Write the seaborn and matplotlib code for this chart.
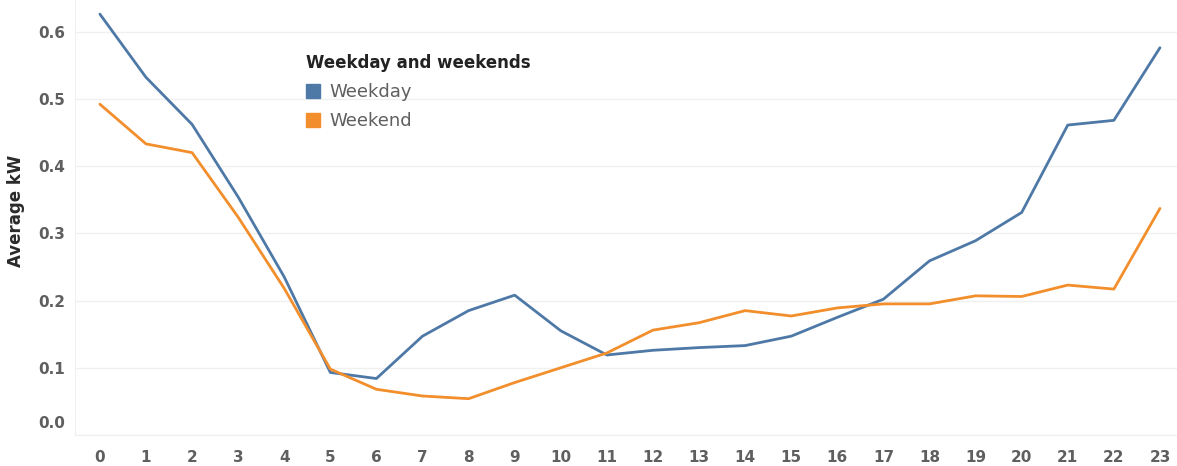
import numpy as np
import pandas as pd
import matplotlib
matplotlib.use("Agg")
import matplotlib.pyplot as plt
import matplotlib.transforms as mtransforms
from matplotlib.lines import Line2D
import seaborn as sns

hours = list(range(24))
weekday = [0.626, 0.532, 0.462, 0.354, 0.235, 0.093, 0.084, 0.147, 0.185, 0.208,
           0.155, 0.119, 0.126, 0.130, 0.133, 0.147, 0.175, 0.202, 0.259, 0.289,
           0.331, 0.461, 0.468, 0.576]
weekend = [0.492, 0.433, 0.420, 0.324, 0.218, 0.098, 0.068, 0.058, 0.054, 0.078,
           0.100, 0.122, 0.156, 0.167, 0.185, 0.177, 0.189, 0.195, 0.195, 0.207,
           0.206, 0.223, 0.217, 0.337]
series_names = ["Weekday", "Weekend"]
legend_title = "Weekday and weekends"
y_label = "Average kW"
y_ticks = [0.0, 0.1, 0.2, 0.3, 0.4, 0.5, 0.6]

colors = {"Weekday": "#4E79A7", "Weekend": "#F28E2B"}

df = pd.DataFrame({
    "hour": hours * 2,
    "kw": weekday + weekend,
    "type": [series_names[0]] * 24 + [series_names[1]] * 24,
})

sns.set_style("white")
plt.rcParams["font.family"] = ["DejaVu Sans"]

W, H = 1177, 466
fig = plt.figure(figsize=(W / 100, H / 100), dpi=100)
ax = fig.add_axes([75 / W, (H - 435) / H, (1177 - 75) / W, 435 / H])

sns.lineplot(data=df, x="hour", y="kw", hue="type", palette=colors,
             linewidth=2.0, ax=ax, legend=False)

ax.set_xlim(-0.54, 23.37)
ax.set_ylim(0, 0.647)
ax.set_xticks(hours)
ax.set_xticklabels([str(h) for h in hours])
ax.set_yticks(y_ticks)
ax.set_yticklabels([f"{t:.1f}" for t in y_ticks])

ax.grid(axis="y", color="#f0f0f0", linewidth=1.0)
ax.grid(axis="x", visible=False)
for s in ["top", "right"]:
    ax.spines[s].set_visible(False)
ax.spines["left"].set_color("#f0f0f0")
ax.spines["bottom"].set_color("#f0f0f0")

ax.tick_params(axis="x", length=0, pad=11, labelsize=11, labelcolor="#5f5f5f")
ax.tick_params(axis="y", length=0, pad=7, labelsize=11, labelcolor="#5f5f5f")
for lab in ax.get_xticklabels() + ax.get_yticklabels():
    lab.set_fontweight("bold")

ax.set_xlabel("")
ax.set_ylabel(y_label, fontsize=12, fontweight="bold", color="#2a2a2a")
ax.yaxis.set_label_coords(-50 / (1177 - 75), (435 - 211) / 435)

# Lift the 0.0 label as in the reference
t0 = ax.yaxis.get_major_ticks()[0]
t0.label1.set_transform(t0.label1.get_transform() +
                        mtransforms.ScaledTranslation(0, 13 / 100, fig.dpi_scale_trans))

handles = [Line2D([0], [0], marker="s", linestyle="none", markersize=10,
                  markerfacecolor=colors[n], markeredgecolor=colors[n]) for n in series_names]
leg = ax.legend(handles, series_names, title=legend_title, loc="upper left",
                bbox_to_anchor=(306 / W, 1 - 54 / H), bbox_transform=fig.transFigure,
                frameon=False, fontsize=13, title_fontsize=12,
                handlelength=0.8, handletextpad=0.5, labelspacing=0.62,
                borderaxespad=0, borderpad=0)
leg.get_title().set_fontweight("bold")
leg.get_title().set_color("#222222")
leg._legend_box.align = "left"
for t in leg.get_texts():
    t.set_color("#5f5f5f")

fig.savefig("out.png", dpi=100)
